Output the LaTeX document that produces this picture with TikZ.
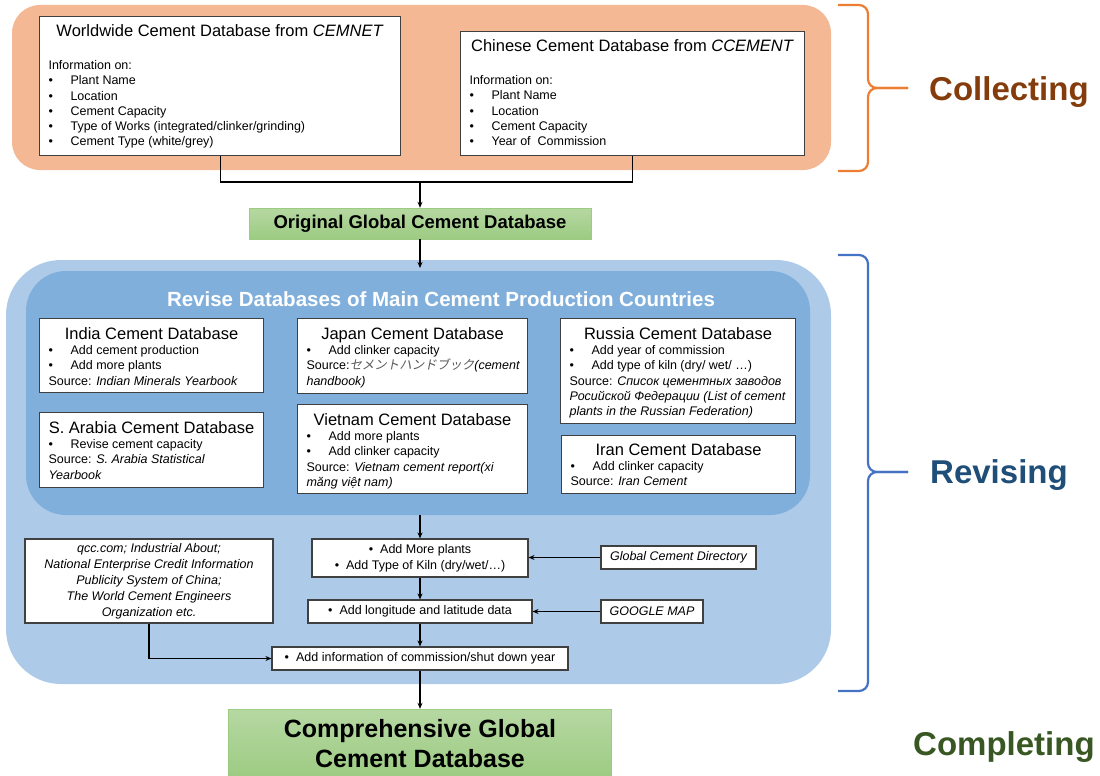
\documentclass[tikz,border=0pt]{standalone}
\usepackage{fontspec}
\setmainfont{Liberation Sans}
\newfontfamily\jpfont[FakeSlant=0.2]{Noto Sans CJK JP}
\usetikzlibrary{arrows.meta}

\definecolor{collectbg}{HTML}{F4B994}
\definecolor{collectline}{HTML}{ED7D31}
\definecolor{collecttext}{HTML}{843C0C}
\definecolor{reviseout}{HTML}{ADCBE9}
\definecolor{revisein}{HTML}{80AFDC}
\definecolor{reviseline}{HTML}{4472C4}
\definecolor{revisetext}{HTML}{1F4E79}
\definecolor{completetext}{HTML}{385723}
\definecolor{greentop}{HTML}{B6D8A2}
\definecolor{greenbot}{HTML}{9CCB82}
\definecolor{boxline}{HTML}{404040}

\newcommand{\smallfs}{\fontsize{12.5}{15.2}\selectfont}
\newcommand{\widefs}{\fontsize{12.5}{16}\selectfont}
\newcommand{\titlefs}{\fontsize{16.5}{19}\selectfont}
\newcommand{\stagefs}{\fontsize{33}{40}\selectfont\bfseries}
\newcommand{\dbtitle}[1]{{\centering\titlefs #1\par}}
\newcommand{\dbitem}[1]{\makebox[22pt][l]{\textbullet}#1\par}
\newcommand{\dbbody}{\smallfs\raggedright\leftskip=9pt\relax}

\tikzset{
  dbbox/.style={draw=boxline, fill=white, line width=1.1pt, inner sep=0pt},
  srcbox/.style={dbbox, font=\widefs, align=center},
  greenbox/.style={draw=greenbot, top color=greentop, bottom color=greenbot, font=\bfseries, align=center, inner sep=0pt},
  arr/.style={-{Stealth[length=6pt,width=5pt]}, line width=1.1pt},
  link/.style={line width=1.1pt},
  brace/.style={line width=2.2pt, rounded corners=9pt},
  stage/.style={font=\stagefs, inner sep=0pt, anchor=base west}
}

\begin{document}
\begin{tikzpicture}[x=1pt,y=-1pt]
\useasboundingbox (0,0) rectangle (1100,776);

% coloured stages
\fill[collectbg, rounded corners=28pt] (12,5) rectangle (831,170);
\fill[reviseout, rounded corners=55pt] (6,260) rectangle (831,684);
\fill[revisein, rounded corners=40pt] (26,271) rectangle (810,515);

% collecting
\node[dbbox, anchor=north west] (cemnet) at (39,16) {\parbox[c][139pt][t]{361pt}{\vspace*{8pt}\dbtitle{Worldwide Cement Database from \textit{CEMNET}}\vspace{18pt}\dbbody Information on:\par
  \dbitem{Plant Name}\dbitem{Location}\dbitem{Cement Capacity}\dbitem{Type of Works (integrated/clinker/grinding)}\dbitem{Cement Type (white/grey)}}};
\node[dbbox, anchor=north west] (ccement) at (460,31) {\parbox[c][124pt][t]{344pt}{\vspace*{8pt}\dbtitle{Chinese Cement Database from \textit{CCEMENT}}\vspace{18pt}\dbbody Information on:\par
  \dbitem{Plant Name}\dbitem{Location}\dbitem{Cement Capacity}\dbitem{Year of\ \ Commission}}};

\node[greenbox, minimum width=342pt, minimum height=31pt, font=\fontsize{18.5}{22}\selectfont\bfseries] (original) at (420,223.5) {Original Global Cement Database};

% revising
\node[font=\fontsize{20.5}{24}\selectfont\bfseries, text=white, inner sep=0pt, anchor=base] (revisetitle) at (441,306) {Revise Databases of Main Cement Production Countries};

\node[dbbox, anchor=north west] (india) at (39,318) {\parbox[c][74pt][t]{224pt}{\vspace*{9pt}\dbtitle{India Cement Database}\dbbody
  \dbitem{Add cement production}\dbitem{Add more plants}Source: \textit{Indian Minerals Yearbook}\par}};
\node[dbbox, anchor=north west] (japan) at (297,318) {\parbox[c][75pt][t]{230pt}{\vspace*{9pt}\dbtitle{Japan Cement Database}\dbbody
  \dbitem{Add clinker capacity}Source:{\jpfont\color{black!65}セメントハンドブック}\textit{(cement}\par\textit{handbook)}\par}};
\node[dbbox, anchor=north west] (russia) at (560,318) {\parbox[c][105pt][t]{235pt}{\vspace*{9pt}\dbtitle{Russia Cement Database}\dbbody
  \dbitem{Add year of commission}\dbitem{Add type of kiln (dry/ wet/ …)}Source: \textit{Список цементных заводов}\par
  \textit{Росийской Федерации (List of cement}\par\textit{plants in the Russian Federation)}\par}};
\node[dbbox, anchor=north west] (arabia) at (39,412) {\parbox[c][75pt][t]{224pt}{\vspace*{9pt}\dbtitle{S. Arabia Cement Database}\dbbody
  \dbitem{Revise cement capacity}Source: \textit{S. Arabia Statistical}\par\textit{Yearbook}\par}};
\node[dbbox, anchor=north west] (vietnam) at (297,404) {\parbox[c][89pt][t]{230pt}{\vspace*{9pt}\dbtitle{Vietnam Cement Database}\dbbody
  \dbitem{Add more plants}\dbitem{Add clinker capacity}Source: \textit{Vietnam cement report(xi}\par\textit{măng việt nam)}\par}};
\node[dbbox, anchor=north west] (iran) at (561,435) {\parbox[c][58pt][t]{234pt}{\vspace*{8pt}\dbtitle{Iran Cement Database}\dbbody
  \dbitem{Add clinker capacity}Source: \textit{Iran Cement}\par}};

\node[srcbox, minimum width=248pt, minimum height=84pt, font=\widefs\itshape] (qcc) at (149,581)
  {qcc.com; Industrial About;\\National Enterprise Credit Information\\Publicity System of China;\\The World Cement Engineers\\Organization etc.};
\node[srcbox, minimum width=216pt, minimum height=38pt] (moreplants) at (420,558)
  {\textbullet\hspace{7pt}Add More plants\\\textbullet\hspace{7pt}Add Type of Kiln (dry/wet/…)};
\node[srcbox, minimum width=224pt, minimum height=23pt] (longitude) at (420,611.5) {\textbullet\hspace{7pt}Add longitude and latitude data};
\node[srcbox, minimum width=296pt, minimum height=23pt] (commission) at (420,658.5) {\textbullet\hspace{7pt}Add information of commission/shut down year};
\node[srcbox, minimum width=155pt, minimum height=23pt, font=\widefs\itshape] (gcd) at (678.5,557.5) {Global Cement Directory};
\node[srcbox, minimum width=102pt, minimum height=23pt, font=\widefs\itshape] (google) at (652,611.5) {GOOGLE MAP};

% completing
\node[greenbox, minimum width=383pt, minimum height=70pt, font=\fontsize{25}{30}\selectfont\bfseries] (comprehensive) at (420,744) {Comprehensive Global\\Cement Database};

% connectors
\coordinate (join) at (420,182);
\coordinate (revtop) at (420,268);
\coordinate (revbot) at (420,515);
\draw[link] (cemnet.south) |- (join) -| (ccement.south);
\draw[arr] (join) -- (original.north);
\draw[arr] (original.south) -- (revtop);
\draw[arr] (revbot) -- (moreplants.north);
\draw[arr] (moreplants) -- (longitude);
\draw[arr] (longitude) -- (commission);
\draw[arr] (commission) -- (comprehensive);
\draw[arr] (gcd.west) -- (gcd.west -| moreplants.east);
\draw[arr] (google.west) -- (google.west -| longitude.east);
\draw[arr] (qcc.south) |- (commission.west);

% braces and stage names
\draw[brace, collectline] (838,5) -- (868,5) -- (868,88) -- (908,88);
\draw[brace, collectline] (838,171) -- (868,171) -- (868,88) -- (908,88);
\draw[brace, reviseline] (838,255) -- (868,255) -- (868,472) -- (908,472);
\draw[brace, reviseline] (838,691) -- (868,691) -- (868,472) -- (908,472);
\node[stage, text=collecttext] (collecting) at (929,100) {Collecting};
\node[stage, text=revisetext] (revising) at (930,483) {Revising};
\node[stage, text=completetext] (completing) at (913,755) {Completing};
\end{tikzpicture}
\end{document}
